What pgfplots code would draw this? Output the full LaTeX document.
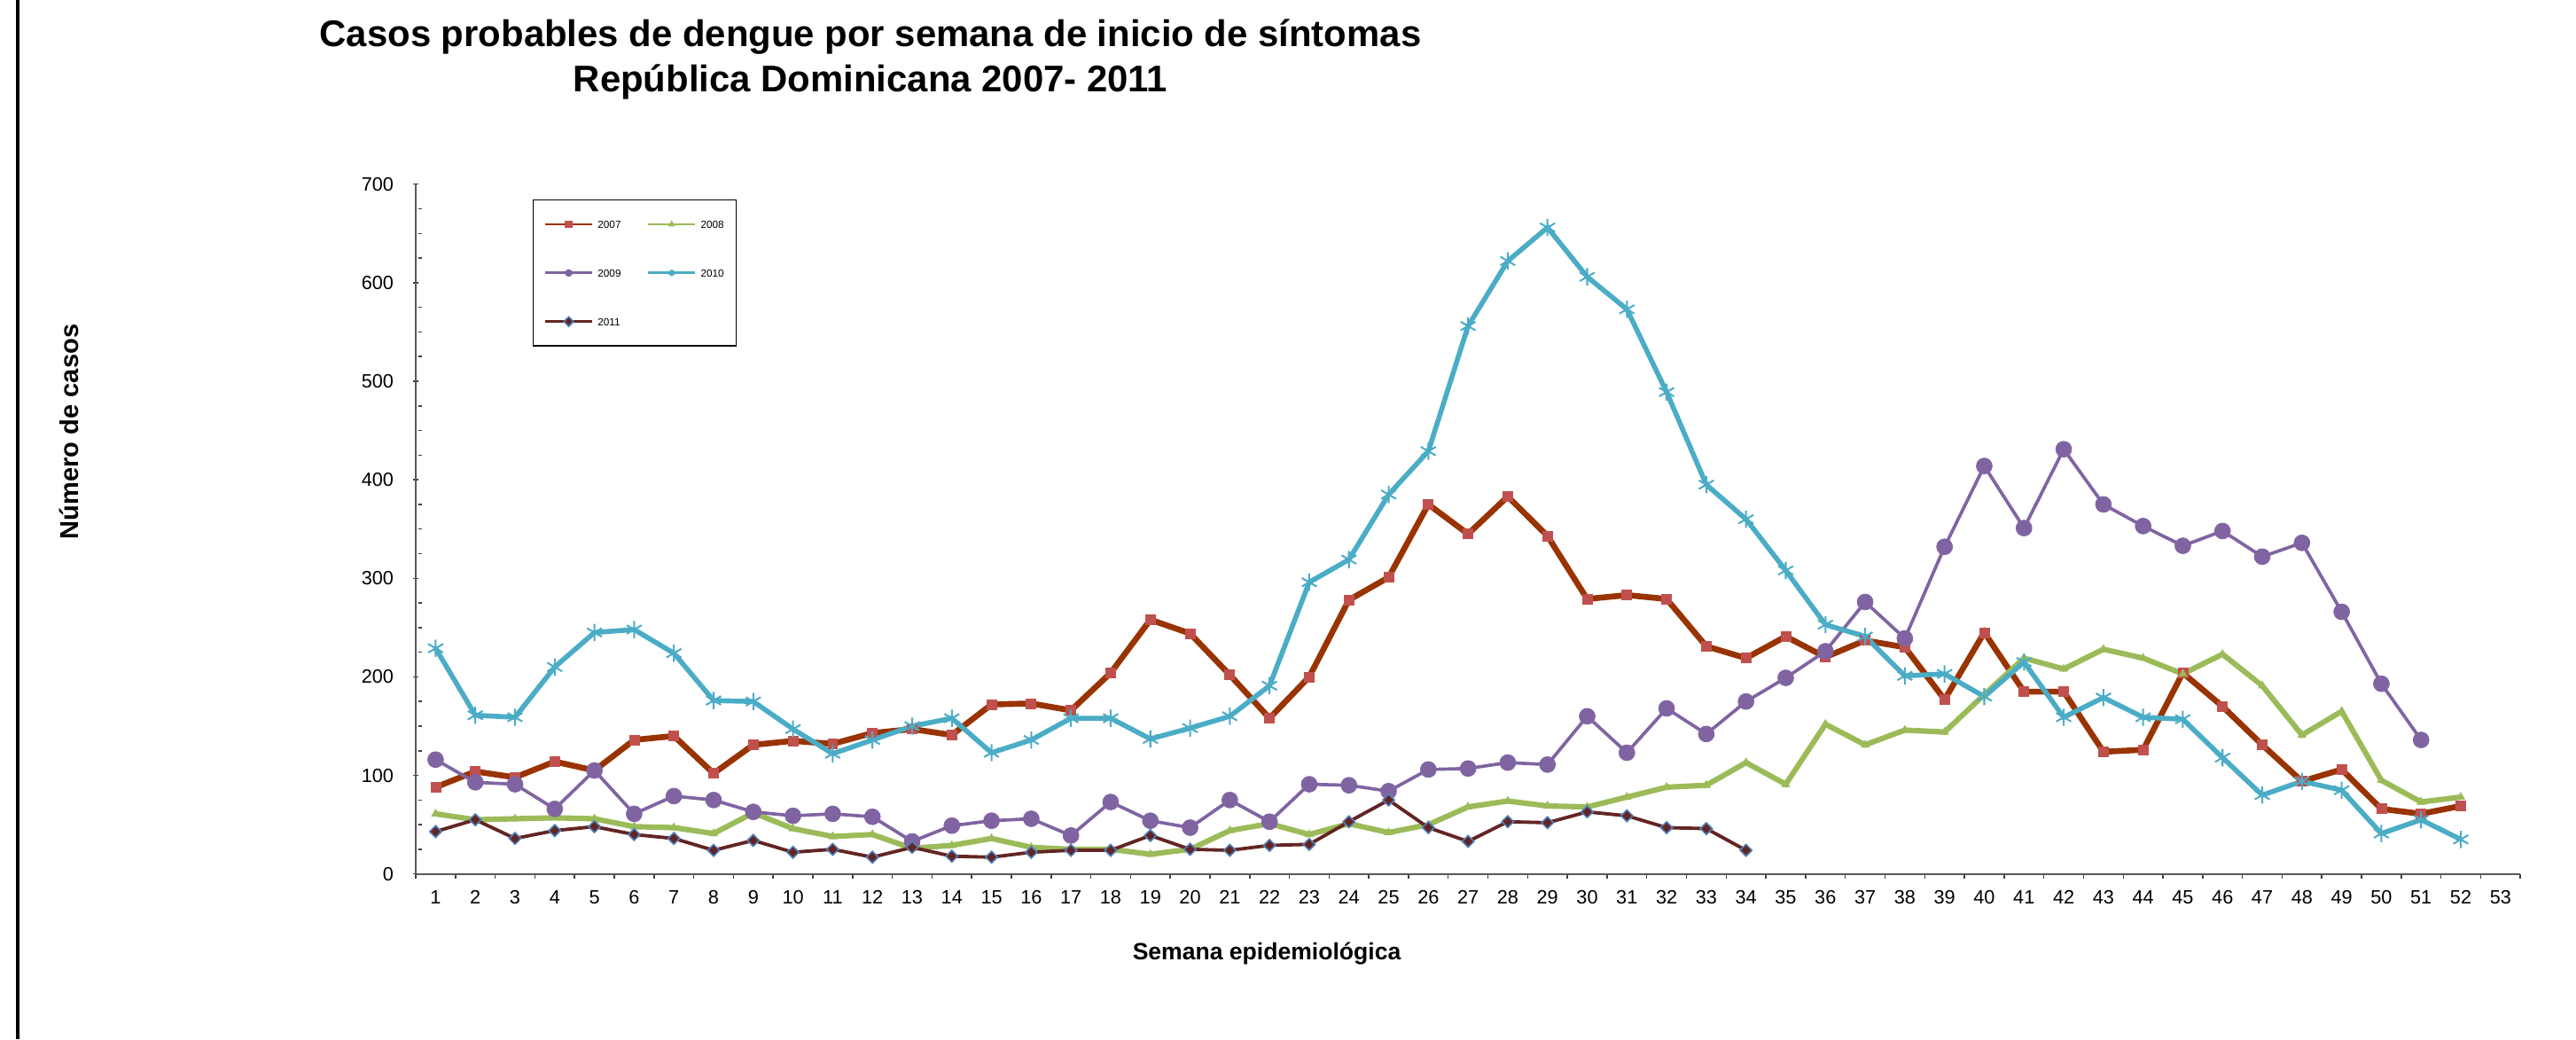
\documentclass[border=0pt]{standalone}
\usepackage{fontspec}
\setmainfont{Liberation Sans}
\usepackage{pgfplots}
\pgfplotsset{compat=1.18}

\definecolor{rojo}{RGB}{153,51,0}
\definecolor{rojomark}{RGB}{192,80,77}
\definecolor{verde}{RGB}{155,187,89}
\definecolor{morado}{RGB}{128,100,162}
\definecolor{celeste}{RGB}{75,172,198}
\definecolor{vino}{RGB}{99,37,35}
\definecolor{azulborde}{RGB}{79,129,189}

\begin{document}
\begin{tikzpicture}
\path[use as bounding box] (-6.456,-2.565) rectangle (33.544,13.568);
\draw[line width=1.2pt] (-6.181,-2.565) -- (-6.181,13.568);

\node[anchor=base, font=\fontsize{16.4}{18}\selectfont\bfseries] at (7.061,12.84) {Casos probables de dengue por semana de inicio de síntomas};
\node[anchor=base, font=\fontsize{16.4}{18}\selectfont\bfseries] at (7.061,12.14) {República Dominicana 2007- 2011};
\node[rotate=90, font=\fontsize{11.4}{13}\selectfont\bfseries] at (-5.382,6.865) {Número de casos};
\node[font=\fontsize{10.4}{12}\selectfont\bfseries] at (13.214,-1.243) {Semana epidemiológica};

\begin{axis}[
  at={(0,0)}, anchor=south west,
  scale only axis, width=32.68cm, height=10.709cm,
  xmin=0.5, xmax=53.5, ymin=0, ymax=700,
  axis lines=left,
  axis line style={-, draw=black!65, line width=0.8pt},
  tick style={draw=black!75, line width=0.6pt},
  tick align=outside,
  major tick length=0.07cm,
  minor tick length=0.055cm,
  minor tick style={xshift=0.055cm},
  ytick style={xshift=0.035cm},
  xtick={0.5,1.5,...,53.5},
  xticklabels={},
  extra x ticks={1,2,...,53},
  extra x tick style={major tick length=0pt},
  ytick={0,100,...,700},
  minor y tick num=3,
  /pgf/number format/assume math mode=true,
  tick label style={font=\fontsize{8.5}{10}\selectfont},
  x tick label style={yshift=-0.13cm},
  y tick label style={xshift=-0.15cm},
  legend columns=2,
  legend cell align=left,
  legend style={at={(rel axis cs:0.0554,0.978)}, anchor=north west,
    draw=black, line width=0.6pt, fill=white,
    inner xsep=0.17cm, inner ysep=0.3cm, row sep=0.6cm,
    font=\fontsize{4.6}{5.5}\selectfont,
    nodes={inner sep=0.5pt, text height=3.4pt, text depth=0pt},
    /tikz/every even column/.append style={column sep=0.385cm},
    /tikz/every odd column/.append style={column sep=0.05cm}},
  legend image code/.code={\draw[mark repeat=2,mark phase=2,line width=1.1pt,mark size=1.5pt]
    plot coordinates {(0cm,0cm) (0.365cm,0cm) (0.73cm,0cm)};},
]
% 2007
\addplot[rojo, line width=2.6pt, mark=square*, mark size=2.15pt,
  mark options={fill=rojomark, draw=rojomark, line width=0.3pt}] coordinates {
(1,88) (2,104) (3,98) (4,114) (5,105) (6,136) (7,140) (8,102) (9,131) (10,135)
(11,132) (12,143) (13,147) (14,141) (15,172) (16,173) (17,166) (18,204) (19,258) (20,244)
(21,202) (22,158) (23,200) (24,278) (25,301) (26,375) (27,345) (28,383) (29,343) (30,279)
(31,283) (32,279) (33,231) (34,219) (35,241) (36,220) (37,237) (38,230) (39,177) (40,245)
(41,185) (42,185) (43,124) (44,126) (45,204) (46,170) (47,131) (48,94) (49,106) (50,66)
(51,61) (52,69)};
\addlegendentry{2007}
% 2008
\addplot[verde, line width=2.4pt, mark=triangle*, mark size=2pt,
  mark options={fill=verde, draw=verde, line width=0.3pt}] coordinates {
(1,61) (2,55) (3,56) (4,57) (5,56) (6,48) (7,47) (8,41) (9,62) (10,46)
(11,38) (12,40) (13,26) (14,29) (15,36) (16,27) (17,25) (18,25) (19,20) (20,25)
(21,44) (22,51) (23,40) (24,51) (25,42) (26,50) (27,68) (28,74) (29,69) (30,68)
(31,78) (32,88) (33,90) (34,113) (35,91) (36,152) (37,131) (38,146) (39,144) (40,182)
(41,219) (42,208) (43,228) (44,219) (45,203) (46,223) (47,191) (48,141) (49,165) (50,95)
(51,73) (52,78)};
\addlegendentry{2008}
% 2009
\addplot[morado, line width=1.45pt, mark=*, mark size=3.5pt,
  mark options={fill=morado, draw=morado, line width=0.3pt}] coordinates {
(1,116) (2,93) (3,91) (4,66) (5,105) (6,61) (7,79) (8,75) (9,63) (10,59)
(11,61) (12,58) (13,33) (14,49) (15,54) (16,56) (17,39) (18,73) (19,54) (20,47)
(21,75) (22,53) (23,91) (24,90) (25,84) (26,106) (27,107) (28,113) (29,111) (30,160)
(31,123) (32,168) (33,142) (34,175) (35,199) (36,226) (37,276) (38,239) (39,332) (40,414)
(41,351) (42,431) (43,375) (44,353) (45,333) (46,348) (47,322) (48,336) (49,266) (50,193)
(51,136)};
\addlegendentry{2009}
% 2010
\addplot[celeste, line width=2.2pt, mark=asterisk, mark size=3.8pt,
  mark options={draw=celeste, line width=0.8pt}] coordinates {
(1,229) (2,161) (3,159) (4,210) (5,245) (6,248) (7,224) (8,176) (9,175) (10,147)
(11,122) (12,136) (13,150) (14,158) (15,123) (16,136) (17,158) (18,158) (19,137) (20,148)
(21,160) (22,191) (23,296) (24,319) (25,385) (26,429) (27,556) (28,622) (29,656) (30,606)
(31,573) (32,489) (33,395) (34,360) (35,308) (36,253) (37,241) (38,201) (39,203) (40,180)
(41,215) (42,159) (43,179) (44,159) (45,157) (46,118) (47,80) (48,94) (49,85) (50,41)
(51,55) (52,35)};
\addlegendentry{2010}
% 2011
\addplot[vino, line width=1.5pt, mark=square*, mark size=1.85pt,
  mark options={rotate=45, fill=vino, draw=azulborde, line width=0.6pt}] coordinates {
(1,43) (2,55) (3,36) (4,44) (5,48) (6,40) (7,36) (8,24) (9,34) (10,22)
(11,25) (12,17) (13,27) (14,18) (15,17) (16,22) (17,24) (18,24) (19,39) (20,25)
(21,24) (22,29) (23,30) (24,53) (25,75) (26,47) (27,33) (28,53) (29,52) (30,63)
(31,59) (32,47) (33,46) (34,24)};
\addlegendentry{2011}
\end{axis}
\end{tikzpicture}
\end{document}
